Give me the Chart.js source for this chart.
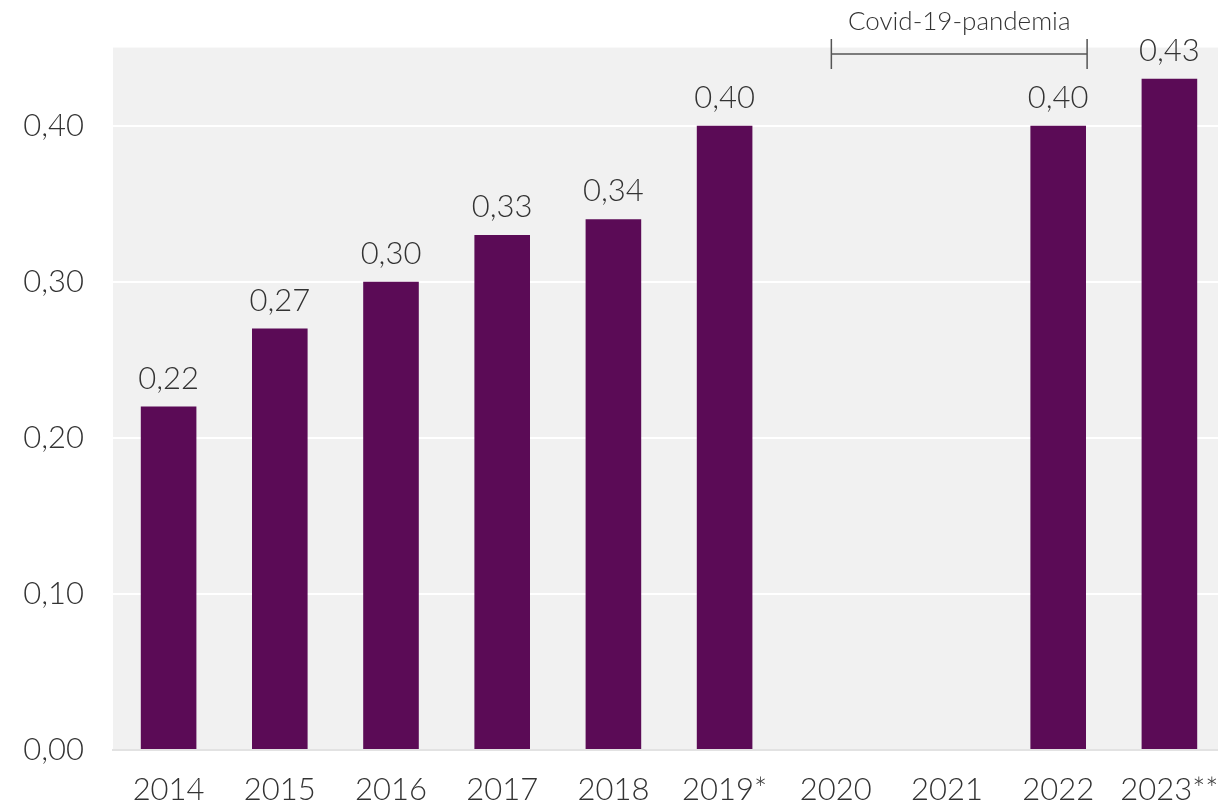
<!DOCTYPE html>
<html>
<head>
<meta charset="utf-8">
<script src="https://cdn.jsdelivr.net/npm/chart.js@4"></script>
<style>
  html, body { margin: 0; padding: 0; background: #ffffff; overflow: hidden; }
  #wrap { width: 1225px; height: 805px; position: relative; }
</style>
</head>
<body>
<div id="wrap"><canvas id="chart"></canvas></div>
<script>
// Yearly values (null = no measurement during the pandemic years)
const categories = ['2014', '2015', '2016', '2017', '2018', '2019*', '2020', '2021', '2022', '2023**'];
const values = [0.22, 0.27, 0.30, 0.33, 0.34, 0.40, null, null, 0.40, 0.43];
const yTicks = [0.00, 0.10, 0.20, 0.30, 0.40];
const periodLabel = 'Covid-19-pandemia';
// bracket span, in category-index units
const periodSpan = [5.96, 8.26];

const FONT = 'Lato, "Open Sans", sans-serif';
const TEXT = '#333333';
const WEIGHT = 300;
const SIZE = 31;
const fmt = v => v.toFixed(2).replace('.', ',');

const plotBackground = {
  id: 'plotBackground',
  beforeDraw(chart) {
    const { ctx, chartArea: a } = chart;
    ctx.save();
    ctx.fillStyle = '#f1f1f1';
    ctx.fillRect(a.left, a.top, a.right - a.left, a.bottom - a.top);
    ctx.restore();
  }
};

const valueLabels = {
  id: 'valueLabels',
  afterDatasetsDraw(chart) {
    const { ctx } = chart;
    const meta = chart.getDatasetMeta(0);
    ctx.save();
    ctx.font = WEIGHT + ' ' + SIZE + 'px ' + FONT;
    ctx.fillStyle = TEXT;
    ctx.textAlign = 'center';
    ctx.textBaseline = 'alphabetic';
    meta.data.forEach((bar, i) => {
      const v = values[i];
      if (v === null) return;
      ctx.fillText(fmt(v), bar.x, bar.y - 18);
    });
    ctx.restore();
  }
};

const periodBracket = {
  id: 'periodBracket',
  afterDraw(chart) {
    const { ctx } = chart;
    const x = chart.scales.x;
    const x0 = x.getPixelForValue(periodSpan[0]);
    const x1 = x.getPixelForValue(periodSpan[1]);
    const y = 54;
    ctx.save();
    ctx.strokeStyle = '#555555';
    ctx.lineWidth = 1.5;
    ctx.beginPath();
    ctx.moveTo(x0, y); ctx.lineTo(x1, y);
    ctx.moveTo(x0, 39); ctx.lineTo(x0, 69);
    ctx.moveTo(x1, 39); ctx.lineTo(x1, 69);
    ctx.stroke();
    ctx.font = WEIGHT + ' 26px ' + FONT;
    ctx.fillStyle = TEXT;
    ctx.textAlign = 'center';
    ctx.textBaseline = 'alphabetic';
    ctx.fillText(periodLabel, (x0 + x1) / 2, 30);
    ctx.restore();
  }
};

new Chart(document.getElementById('chart'), {
  type: 'bar',
  data: {
    labels: categories,
    datasets: [{
      data: values,
      backgroundColor: '#5b0b56',
      borderWidth: 0,
      barPercentage: 0.5,
      categoryPercentage: 1.0
    }]
  },
  options: {
    responsive: true,
    maintainAspectRatio: false,
    animation: false,
    layout: { padding: { top: 47, right: 0, left: 0, bottom: 0 } },
    plugins: { legend: { display: false }, tooltip: { enabled: false } },
    scales: {
      x: {
        grid: { display: false, drawTicks: false },
        border: { display: true, color: '#e2e2e2', width: 2 },
        ticks: { color: TEXT, font: { family: FONT, size: SIZE, weight: WEIGHT }, padding: 21, maxRotation: 0, autoSkip: false },
        afterFit(scale) {
          scale.height = 55;
          scale.paddingLeft = 0;
          scale.paddingRight = 0;
        }
      },
      y: {
        min: 0,
        max: 0.45,
        grid: { color: '#ffffff', lineWidth: 2, drawTicks: false },
        border: { display: false },
        afterBuildTicks(scale) { scale.ticks = yTicks.map(v => ({ value: v })); },
        ticks: {
          color: TEXT,
          font: { family: FONT, size: SIZE, weight: WEIGHT },
          padding: 29,
          callback: v => fmt(v)
        },
        afterFit(scale) { scale.width = 113; }
      }
    }
  },
  plugins: [plotBackground, valueLabels, periodBracket]
});
</script>
</body>
</html>
